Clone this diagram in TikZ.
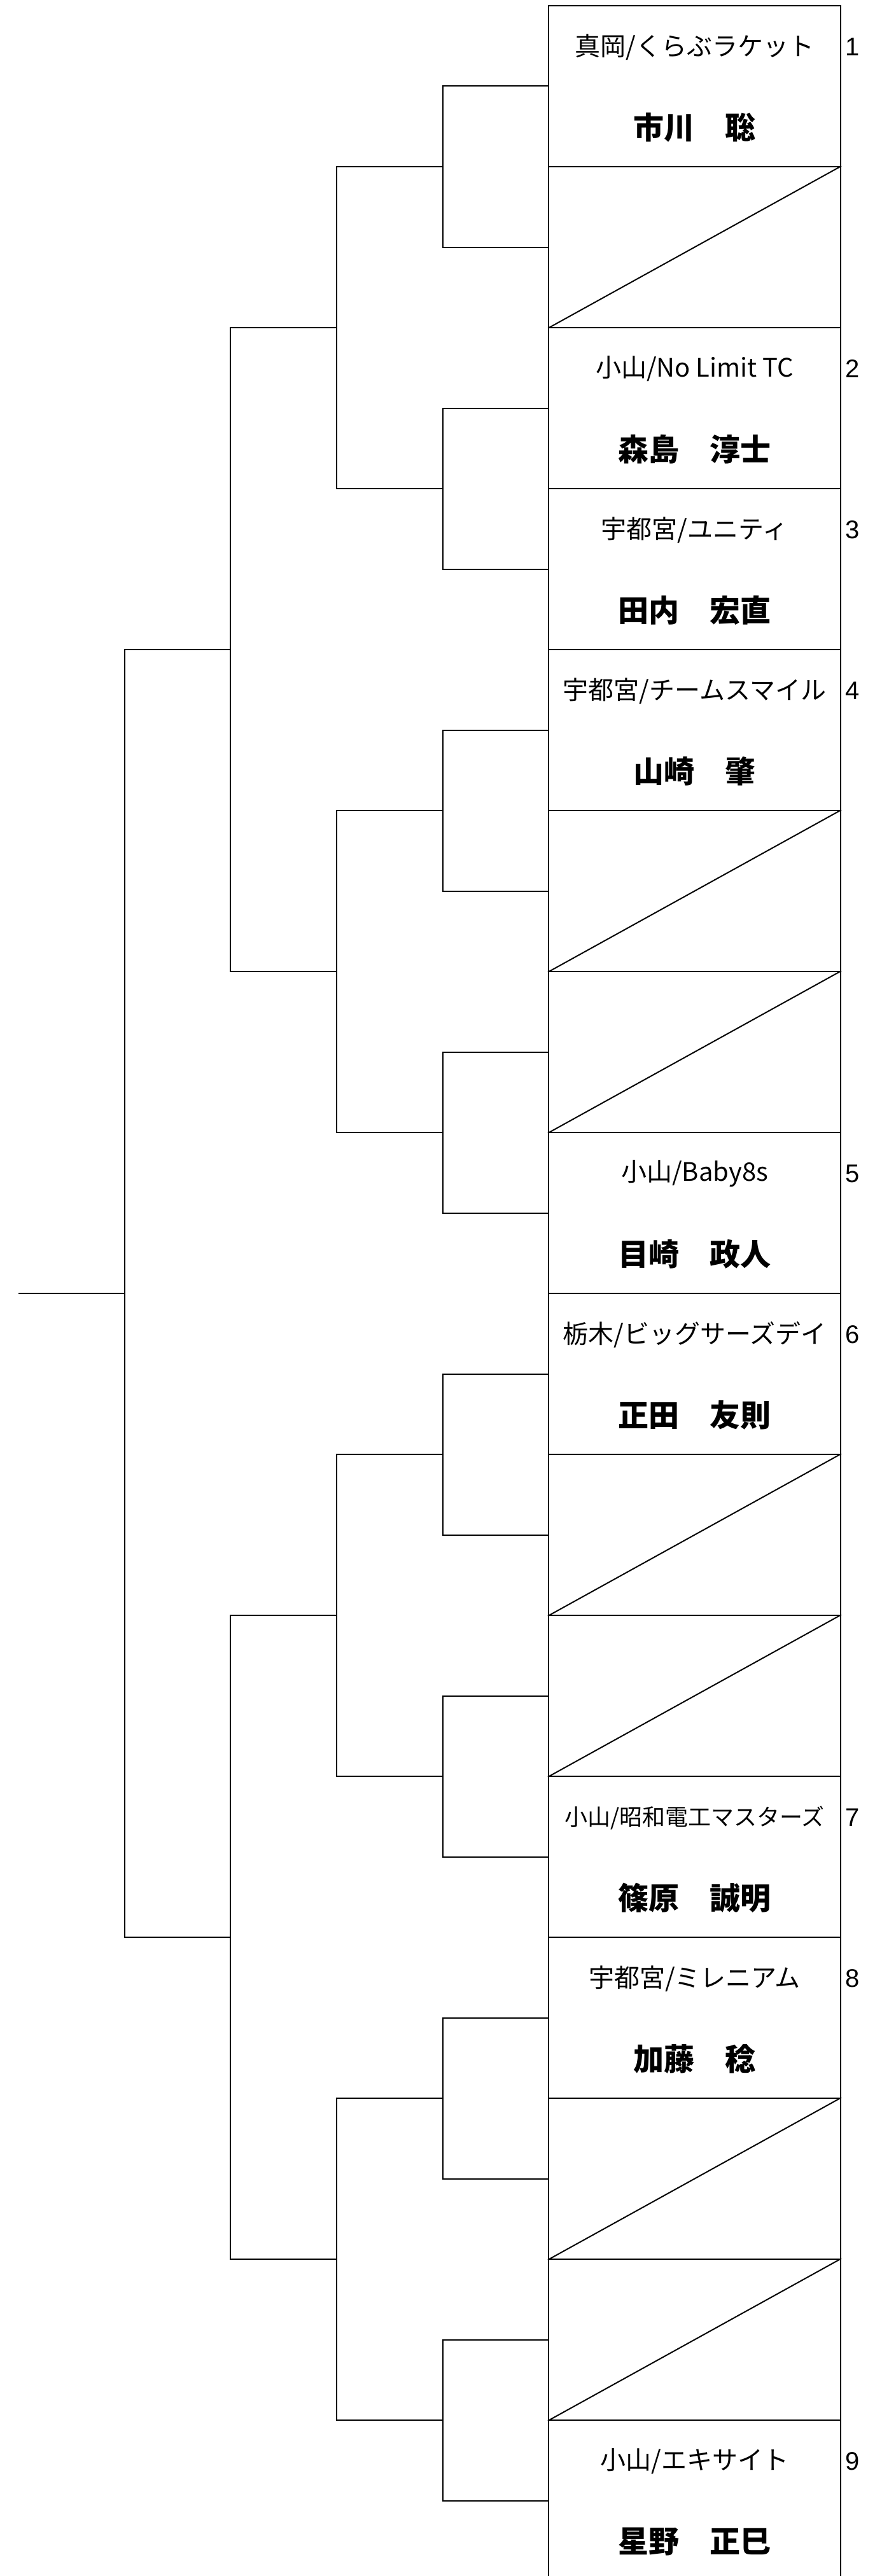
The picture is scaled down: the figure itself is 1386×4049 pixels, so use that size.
\documentclass[tikz,border=0pt]{standalone}
\usepackage{fontspec}
\newfontfamily\jp{Noto Sans CJK JP}
\newfontfamily\numf{Liberation Sans}
\tikzset{
  ln/.style={line width=2pt, black},
  slotbox/.style={draw, line width=2pt, rectangle, minimum width=459pt, minimum height=253pt, inner sep=0pt},
  clubtxt/.style={inner sep=0pt, anchor=center},
  nametxt/.style={inner sep=0pt, anchor=center, font=\jp\bfseries\fontsize{48}{50}\selectfont},
  numtxt/.style={inner sep=0pt, anchor=center, font=\numf\fontsize{40}{42}\selectfont},
}
% #1 slot index, #2 club, #3 name, #4 seed number, #5 club font size
\newcommand\pslot[5]{%
  \node[slotbox] (s#1) at (1091.5,{-(135.5+253*(#1-1))}) {};
  \node[clubtxt, font=\jp\fontsize{#5}{#5}\selectfont] (c#1) at (1091.5,{-(74+253*(#1-1))}) {#2};
  \node[nametxt] (p#1) at (1091.5,{-(200+253*(#1-1))}) {#3};
  \node[numtxt] (k#1) at (1340,{-(74+253*(#1-1))}) {#4};
}
\newcommand\byeslot[1]{%
  \node[slotbox] (s#1) at (1091.5,{-(135.5+253*(#1-1))}) {};
  \draw[ln] (s#1.south west) -- (s#1.north east);
}
\begin{document}
\begin{tikzpicture}[x=1pt,y=1pt]
\clip (0,0) rectangle (1386,-4049);
\fill[white] (0,0) rectangle (1386,-4049);

\pslot{1}{真岡/くらぶラケット}{市川　聡}{1}{40}
\byeslot{2}
\pslot{3}{小山/No Limit TC}{森島　淳士}{2}{40}
\pslot{4}{宇都宮/ユニティ}{田内　宏直}{3}{40}
\pslot{5}{宇都宮/チームスマイル}{山崎　肇}{4}{40}
\byeslot{6}
\byeslot{7}
\pslot{8}{小山/Baby8s}{目崎　政人}{5}{40}
\pslot{9}{栃木/ビッグサーズデイ}{正田　友則}{6}{40}
\byeslot{10}
\byeslot{11}
\pslot{12}{小山/昭和電工マスターズ}{篠原　誠明}{7}{36}
\pslot{13}{宇都宮/ミレニアム}{加藤　稔}{8}{40}
\byeslot{14}
\byeslot{15}
\pslot{16}{小山/エキサイト}{星野　正巳}{9}{40}

% round 1 junctions
\coordinate (m1) at (696,{-(9+253*1)});
\coordinate (m2) at (696,{-(9+253*3)});
\coordinate (m3) at (696,{-(9+253*5)});
\coordinate (m4) at (696,{-(9+253*7)});
\coordinate (m5) at (696,{-(9+253*9)});
\coordinate (m6) at (696,{-(9+253*11)});
\coordinate (m7) at (696,{-(9+253*13)});
\coordinate (m8) at (696,{-(9+253*15)});
% round 2
\coordinate (n1) at (529,{-(9+253*2)});
\coordinate (n2) at (529,{-(9+253*6)});
\coordinate (n3) at (529,{-(9+253*10)});
\coordinate (n4) at (529,{-(9+253*14)});
% round 3
\coordinate (r1) at (362,{-(9+253*4)});
\coordinate (r2) at (362,{-(9+253*12)});
% round 4 and final
\coordinate (q) at (196,{-(9+253*8)});
\coordinate (f) at (29,{-(9+253*8)});

\draw[ln] (s1.west) -| (m1) |- (s2.west);
\draw[ln] (s3.west) -| (m2) |- (s4.west);
\draw[ln] (s5.west) -| (m3) |- (s6.west);
\draw[ln] (s7.west) -| (m4) |- (s8.west);
\draw[ln] (s9.west) -| (m5) |- (s10.west);
\draw[ln] (s11.west) -| (m6) |- (s12.west);
\draw[ln] (s13.west) -| (m7) |- (s14.west);
\draw[ln] (s15.west) -| (m8) |- (s16.west);

\draw[ln] (m1) -| (n1) |- (m2);
\draw[ln] (m3) -| (n2) |- (m4);
\draw[ln] (m5) -| (n3) |- (m6);
\draw[ln] (m7) -| (n4) |- (m8);

\draw[ln] (n1) -| (r1) |- (n2);
\draw[ln] (n3) -| (r2) |- (n4);

\draw[ln] (r1) -| (q) |- (r2);
\draw[ln] (f) -- (q);
\end{tikzpicture}
\end{document}
